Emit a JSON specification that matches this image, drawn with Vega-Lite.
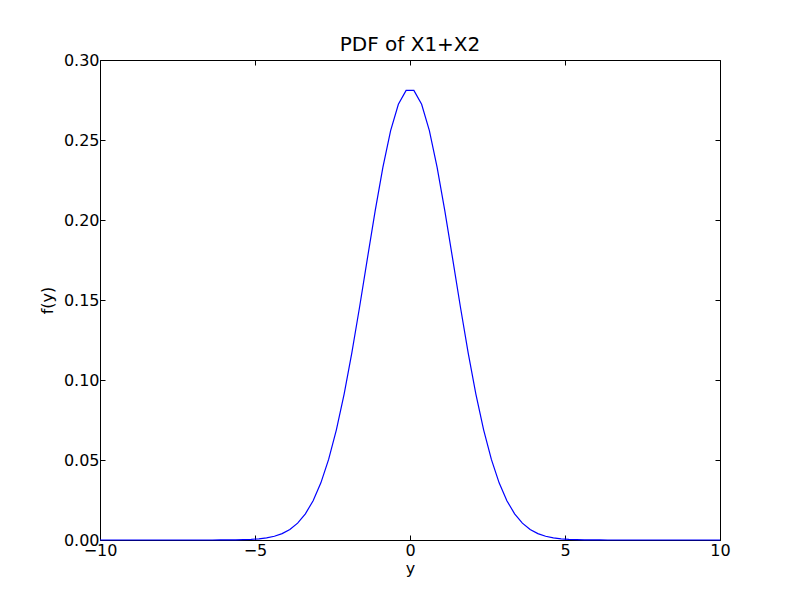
{
  "$schema": "https://vega.github.io/schema/vega-lite/v6.json",
  "width": 620,
  "height": 480,
  "autosize": {"type": "none"},
  "padding": {"left": 100, "top": 60, "right": 80, "bottom": 60},
  "background": "white",
  "title": {"text": "PDF of X1+X2", "font": "DejaVu Sans", "fontSize": 20, "fontWeight": "normal", "color": "black", "offset": -3},
  "config": {
    "view": {"stroke": "black", "strokeWidth": 1},
    "axis": {"grid": false, "labelFont": "DejaVu Sans", "labelFontSize": 16, "labelColor": "black", "titleFont": "DejaVu Sans", "titleFontSize": 16, "titleFontWeight": "normal", "titleColor": "black", "tickColor": "black", "tickSize": -5, "domain": false, "labelPadding": 6}
  },
  "data": {"values": [
    {"x": -10, "f": 0}, {"x": -9, "f": 0}, {"x": -8, "f": 0}, {"x": -7, "f": 0},
    {"x": -6.375, "f": 0.00001}, {"x": -6.125, "f": 0.00002}, {"x": -5.875, "f": 0.00004}, {"x": -5.625, "f": 0.0001},
    {"x": -5.375, "f": 0.00021}, {"x": -5.125, "f": 0.0004}, {"x": -4.875, "f": 0.00074}, {"x": -4.625, "f": 0.00134},
    {"x": -4.375, "f": 0.00236}, {"x": -4.125, "f": 0.00401}, {"x": -3.875, "f": 0.00661}, {"x": -3.625, "f": 0.01056},
    {"x": -3.375, "f": 0.01636}, {"x": -3.125, "f": 0.02455}, {"x": -2.875, "f": 0.03572}, {"x": -2.625, "f": 0.05038},
    {"x": -2.375, "f": 0.06886}, {"x": -2.125, "f": 0.09122}, {"x": -1.875, "f": 0.11713}, {"x": -1.625, "f": 0.14578},
    {"x": -1.375, "f": 0.17584}, {"x": -1.125, "f": 0.20558}, {"x": -0.875, "f": 0.23295}, {"x": -0.625, "f": 0.25585},
    {"x": -0.375, "f": 0.27234}, {"x": -0.125, "f": 0.28099}, {"x": 0.125, "f": 0.28099}, {"x": 0.375, "f": 0.27234},
    {"x": 0.625, "f": 0.25585}, {"x": 0.875, "f": 0.23295}, {"x": 1.125, "f": 0.20558}, {"x": 1.375, "f": 0.17584},
    {"x": 1.625, "f": 0.14578}, {"x": 1.875, "f": 0.11713}, {"x": 2.125, "f": 0.09122}, {"x": 2.375, "f": 0.06886},
    {"x": 2.625, "f": 0.05038}, {"x": 2.875, "f": 0.03572}, {"x": 3.125, "f": 0.02455}, {"x": 3.375, "f": 0.01636},
    {"x": 3.625, "f": 0.01056}, {"x": 3.875, "f": 0.00661}, {"x": 4.125, "f": 0.00401}, {"x": 4.375, "f": 0.00236},
    {"x": 4.625, "f": 0.00134}, {"x": 4.875, "f": 0.00074}, {"x": 5.125, "f": 0.0004}, {"x": 5.375, "f": 0.00021},
    {"x": 5.625, "f": 0.0001}, {"x": 5.875, "f": 0.00004}, {"x": 6.125, "f": 0.00002}, {"x": 6.375, "f": 0.00001},
    {"x": 7, "f": 0}, {"x": 8, "f": 0}, {"x": 9, "f": 0}, {"x": 10, "f": 0}
  ]},
  "layer": [
    {
      "mark": {"type": "line", "color": "#0000ff", "strokeWidth": 1.2},
      "encoding": {
        "x": {"field": "x", "type": "quantitative", "scale": {"domain": [-10, 10], "nice": false, "zero": false},
              "axis": {"orient": "bottom", "title": "y", "values": [-10, -5, 0, 5, 10], "labelPadding": 7, "titlePadding": 2, "labelFlush": false}},
        "y": {"field": "f", "type": "quantitative", "scale": {"domain": [0, 0.3], "nice": false},
              "axis": {"orient": "left", "title": "f(y)", "format": ".2f", "values": [0, 0.05, 0.1, 0.15, 0.2, 0.25, 0.3], "titlePadding": 8}}
      }
    },
    {
      "mark": {"type": "line", "opacity": 0},
      "encoding": {
        "x": {"field": "x", "type": "quantitative", "scale": {"domain": [-10, 10], "nice": false, "zero": false},
              "axis": {"orient": "top", "title": null, "labels": false, "values": [-10, -5, 0, 5, 10]}},
        "y": {"field": "f", "type": "quantitative", "scale": {"domain": [0, 0.3], "nice": false},
              "axis": {"orient": "right", "title": null, "labels": false, "values": [0, 0.05, 0.1, 0.15, 0.2, 0.25, 0.3]}}
      }
    }
  ],
  "resolve": {"axis": {"x": "independent", "y": "independent"}}
}
